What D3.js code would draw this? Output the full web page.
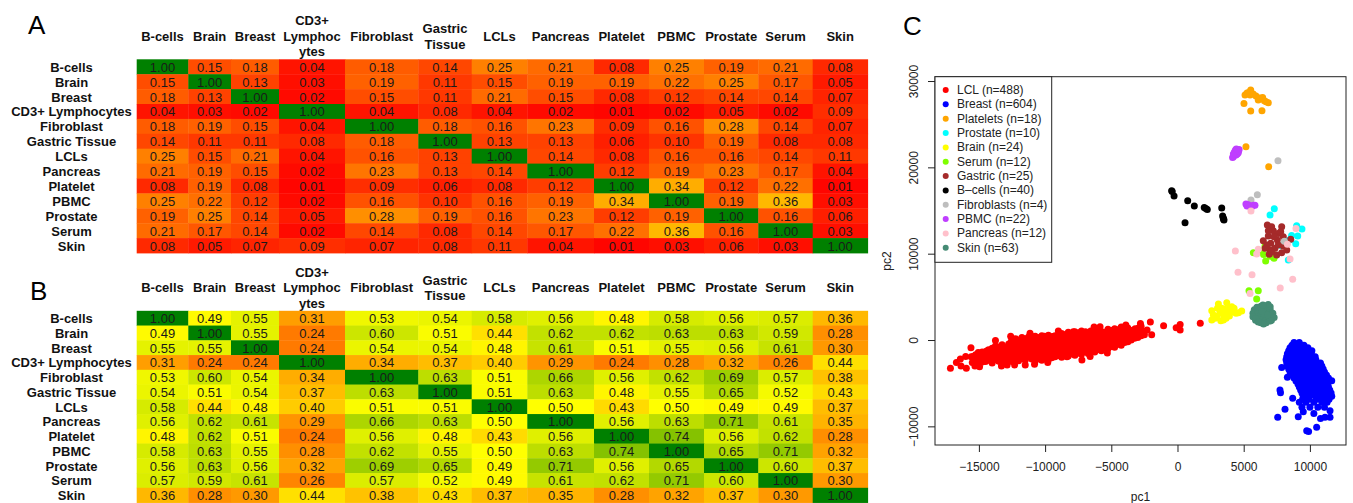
<!DOCTYPE html>
<html>
<head>
<meta charset="utf-8">
<script src="https://cdn.jsdelivr.net/npm/d3@7"></script>
<style>
  body { margin: 0; background: #fff; }
  svg { display: block; font-family: "Liberation Sans", Arial, Helvetica, sans-serif; }
</style>
</head>
<body>
<div id="chart"></div>
<script>
// ---- data ----
var rowNames = ["B-cells", "Brain", "Breast", "CD3+ Lymphocytes", "Fibroblast", "Gastric Tissue",
  "LCLs", "Pancreas", "Platelet", "PBMC", "Prostate", "Serum", "Skin"];
var colHeaders = [["B-cells"], ["Brain"], ["Breast"], ["CD3+", "Lymphoc", "ytes"], ["Fibroblast"],
  ["Gastric", "Tissue"], ["LCLs"], ["Pancreas"], ["Platelet"], ["PBMC"], ["Prostate"], ["Serum"], ["Skin"]];

var matrixA = [
  [1.00, 0.15, 0.18, 0.04, 0.18, 0.14, 0.25, 0.21, 0.08, 0.25, 0.19, 0.21, 0.08],
  [0.15, 1.00, 0.13, 0.03, 0.19, 0.11, 0.15, 0.19, 0.19, 0.22, 0.25, 0.17, 0.05],
  [0.18, 0.13, 1.00, 0.02, 0.15, 0.11, 0.21, 0.15, 0.08, 0.12, 0.14, 0.14, 0.07],
  [0.04, 0.03, 0.02, 1.00, 0.04, 0.08, 0.04, 0.02, 0.01, 0.02, 0.05, 0.02, 0.09],
  [0.18, 0.19, 0.15, 0.04, 1.00, 0.18, 0.16, 0.23, 0.09, 0.16, 0.28, 0.14, 0.07],
  [0.14, 0.11, 0.11, 0.08, 0.18, 1.00, 0.13, 0.13, 0.06, 0.10, 0.19, 0.08, 0.08],
  [0.25, 0.15, 0.21, 0.04, 0.16, 0.13, 1.00, 0.14, 0.08, 0.16, 0.16, 0.14, 0.11],
  [0.21, 0.19, 0.15, 0.02, 0.23, 0.13, 0.14, 1.00, 0.12, 0.19, 0.23, 0.17, 0.04],
  [0.08, 0.19, 0.08, 0.01, 0.09, 0.06, 0.08, 0.12, 1.00, 0.34, 0.12, 0.22, 0.01],
  [0.25, 0.22, 0.12, 0.02, 0.16, 0.10, 0.16, 0.19, 0.34, 1.00, 0.19, 0.36, 0.03],
  [0.19, 0.25, 0.14, 0.05, 0.28, 0.19, 0.16, 0.23, 0.12, 0.19, 1.00, 0.16, 0.06],
  [0.21, 0.17, 0.14, 0.02, 0.14, 0.08, 0.14, 0.17, 0.22, 0.36, 0.16, 1.00, 0.03],
  [0.08, 0.05, 0.07, 0.09, 0.07, 0.08, 0.11, 0.04, 0.01, 0.03, 0.06, 0.03, 1.00]
];

var matrixB = [
  [1.00, 0.49, 0.55, 0.31, 0.53, 0.54, 0.58, 0.56, 0.48, 0.58, 0.56, 0.57, 0.36],
  [0.49, 1.00, 0.55, 0.24, 0.60, 0.51, 0.44, 0.62, 0.62, 0.63, 0.63, 0.59, 0.28],
  [0.55, 0.55, 1.00, 0.24, 0.54, 0.54, 0.48, 0.61, 0.51, 0.55, 0.56, 0.61, 0.30],
  [0.31, 0.24, 0.24, 1.00, 0.34, 0.37, 0.40, 0.29, 0.24, 0.28, 0.32, 0.26, 0.44],
  [0.53, 0.60, 0.54, 0.34, 1.00, 0.63, 0.51, 0.66, 0.56, 0.62, 0.69, 0.57, 0.38],
  [0.54, 0.51, 0.54, 0.37, 0.63, 1.00, 0.51, 0.63, 0.48, 0.55, 0.65, 0.52, 0.43],
  [0.58, 0.44, 0.48, 0.40, 0.51, 0.51, 1.00, 0.50, 0.43, 0.50, 0.49, 0.49, 0.37],
  [0.56, 0.62, 0.61, 0.29, 0.66, 0.63, 0.50, 1.00, 0.56, 0.63, 0.71, 0.61, 0.35],
  [0.48, 0.62, 0.51, 0.24, 0.56, 0.48, 0.43, 0.56, 1.00, 0.74, 0.56, 0.62, 0.28],
  [0.58, 0.63, 0.55, 0.28, 0.62, 0.55, 0.50, 0.63, 0.74, 1.00, 0.65, 0.71, 0.32],
  [0.56, 0.63, 0.56, 0.32, 0.69, 0.65, 0.49, 0.71, 0.56, 0.65, 1.00, 0.60, 0.37],
  [0.57, 0.59, 0.61, 0.26, 0.57, 0.52, 0.49, 0.61, 0.62, 0.71, 0.60, 1.00, 0.30],
  [0.36, 0.28, 0.30, 0.44, 0.38, 0.43, 0.37, 0.35, 0.28, 0.32, 0.37, 0.30, 1.00]
];

var groupNames = ["LCL", "Breast", "Platelets", "Prostate", "Brain", "Serum", "Gastric",
  "B\u2013cells", "Fibroblasts", "PBMC", "Pancreas", "Skin"];
var groupN = [488, 604, 18, 10, 24, 12, 25, 40, 4, 22, 12, 63];

var lclPts = [
  [-17150, -3280], [-16400, -2200], [-16350, -3000], [-15950, -3280], [-15600, -900], [-15580, -1950],
  [-14950, -3100], [-14880, -1850], [-14300, -1150], [-13750, -50], [-12870, -2900], [-11500, -2900],
  [-11030, 400], [-11140, 770], [-8350, -1950], [-7220, -2320], [-7870, 960],
  [-2800, 1900], [-2050, 2100], [-1950, 600], [-2300, 1150], [-1050, 1650], [-100, 1430], [200, 1800],
  [200, 1150], [1720, 1930], [-2700, 1000], [-3200, 1300], [-2500, 600],
  [-16700, -2600], [-16000, -1900], [-15300, -3000], [-13300, -3000], [-12300, -2900], [-10800, -2800],
  [-9800, -2600], [-6600, -1900], [-5300, -1500], [-12600, 450], [-9000, 1050], [-6300, 1500], [-3900, 1750],
  [-15500, -2600], [-15450, -1900],
  [-15250, -2300], [-15250, -1700],
  [-15000, -2650], [-14950, -2050], [-15050, -1450],
  [-14750, -2550], [-14750, -1950], [-14750, -1400],
  [-14500, -2500], [-14550, -1900], [-14450, -1300],
  [-14250, -2350], [-14250, -1750], [-14250, -1150],
  [-14000, -2650], [-14050, -2050], [-13950, -1500], [-14000, -950],
  [-13750, -2300], [-13750, -1750], [-13750, -1200], [-13750, -700],
  [-13500, -2450], [-13550, -1900], [-13450, -1300], [-13500, -800],
  [-13250, -2250], [-13250, -1650], [-13250, -1050], [-13250, -550],
  [-13000, -2600], [-12950, -2000], [-13050, -1400], [-13000, -850],
  [-12750, -2250], [-12750, -1650], [-12750, -1000], [-12750, -450],
  [-12500, -2500], [-12550, -1900], [-12450, -1300], [-12500, -700], [-12550, -150],
  [-12250, -2150], [-12250, -1550], [-12250, -950], [-12250, -350], [-12250, 150],
  [-12000, -2400], [-12050, -1800], [-11950, -1200], [-12000, -600], [-11950, 0],
  [-11750, -2050], [-11750, -1450], [-11750, -850], [-11750, -250], [-11750, 300],
  [-11500, -2350], [-11550, -1700], [-11450, -1100], [-11500, -500], [-11450, 150],
  [-11250, -1950], [-11250, -1350], [-11250, -750], [-11250, -150], [-11250, 350],
  [-11000, -2200], [-11050, -1600], [-10950, -1000], [-11000, -400], [-11050, 250],
  [-10750, -2450], [-10750, -1850], [-10750, -1250], [-10750, -650], [-10750, -50], [-10750, 450],
  [-10500, -2150], [-10550, -1500], [-10450, -900], [-10500, -300], [-10450, 300],
  [-10250, -2350], [-10250, -1750], [-10250, -1150], [-10250, -550], [-10250, 50], [-10250, 500],
  [-10000, -2000], [-10050, -1400], [-9950, -800], [-10000, -200], [-10050, 450],
  [-9750, -2250], [-9750, -1700], [-9750, -1100], [-9750, -500], [-9750, 100], [-9750, 550],
  [-9500, -2050], [-9550, -1400], [-9450, -800], [-9500, -200], [-9450, 400],
  [-9250, -1950], [-9250, -1300], [-9250, -700], [-9250, -100], [-9250, 500],
  [-9000, -1800], [-9050, -1200], [-8950, -600], [-9000, 0], [-8950, 550],
  [-8750, -2000], [-8750, -1450], [-8750, -850], [-8750, -250], [-8750, 300], [-8750, 750],
  [-8500, -1700], [-8550, -1100], [-8450, -500], [-8500, 100], [-8450, 650],
  [-8250, -1850], [-8250, -1300], [-8250, -700], [-8250, -100], [-8250, 450], [-8250, 900],
  [-8000, -1600], [-8050, -1000], [-7950, -400], [-8000, 200], [-7950, 750],
  [-7750, -1750], [-7750, -1200], [-7750, -600], [-7750, 0], [-7750, 550], [-7750, 950],
  [-7500, -1500], [-7550, -900], [-7450, -300], [-7500, 300], [-7450, 850],
  [-7250, -1650], [-7250, -1100], [-7250, -500], [-7250, 100], [-7250, 650], [-7250, 1050],
  [-7000, -1300], [-7050, -700], [-6950, -100], [-7000, 500], [-6950, 950],
  [-6750, -1550], [-6750, -1000], [-6750, -400], [-6750, 200], [-6750, 750],
  [-6500, -1200], [-6550, -600], [-6450, 0], [-6500, 600], [-6550, 1050],
  [-6250, -1400], [-6250, -850], [-6250, -300], [-6250, 300], [-6250, 850], [-6250, 1200],
  [-6000, -1100], [-6050, -500], [-5950, 100], [-6000, 700], [-5950, 1200],
  [-5750, -1250], [-5750, -700], [-5750, -100], [-5750, 500], [-5750, 1000],
  [-5500, -900], [-5550, -300], [-5450, 300], [-5500, 900], [-5850, 1540],
  [-5250, -1000], [-5250, -400], [-5250, 200], [-5250, 750], [-5250, 1250],
  [-5000, -750], [-5050, -100], [-4950, 500], [-5000, 1100],
  [-4750, -850], [-4750, -300], [-4750, 300], [-4750, 850], [-4750, 1300],
  [-4500, -500], [-4550, 100], [-4450, 700], [-4500, 1200],
  [-4250, -600], [-4250, 0], [-4250, 500], [-4250, 1000], [-4250, 1500],
  [-4000, -300], [-4050, 300], [-3950, 900], [-4000, 1350],
  [-3750, -200], [-3750, 400], [-3750, 900], [-3750, 1400],
  [-3500, 0], [-3550, 600], [-3450, 1100],
  [-3250, 200], [-3250, 700], [-3250, 1200],
  [-3000, 300], [-3050, 900], [-2950, 1400],
  [-2750, 500], [-2750, 1100], [-2750, 1600]
];

var breastPts = [
  [8800, -300], [9200, -300],
  [8650, -600], [9100, -600], [9550, -600],
  [8500, -900], [8950, -900], [9400, -900], [9850, -900],
  [8400, -1250], [8850, -1250], [9300, -1250], [9750, -1250], [10150, -1250],
  [8300, -1600], [8750, -1600], [9200, -1600], [9650, -1600], [10100, -1600],
  [8250, -1950], [8700, -1950], [9150, -1950], [9600, -1950], [10050, -1950], [10400, -1950],
  [8200, -2300], [8650, -2300], [9100, -2300], [9550, -2300], [10000, -2300], [10450, -2300],
  [8250, -2650], [8700, -2650], [9150, -2650], [9600, -2650], [10050, -2650], [10500, -2650], [10800, -2650],
  [8300, -3000], [8750, -3000], [9200, -3000], [9650, -3000], [10100, -3000], [10550, -3000], [10900, -3000],
  [8400, -3350], [8850, -3350], [9300, -3350], [9750, -3350], [10200, -3350], [10650, -3350], [11000, -3350],
  [8500, -3700], [8950, -3700], [9400, -3700], [9850, -3700], [10300, -3700], [10750, -3700], [11100, -3700],
  [8650, -4050], [9100, -4050], [9550, -4050], [10000, -4050], [10450, -4050], [10900, -4050], [11250, -4050],
  [8300, -4300], [8800, -4400], [9250, -4400], [9700, -4400], [10150, -4400], [10600, -4400], [11050, -4400], [11400, -4400],
  [8950, -4750], [9400, -4750], [9850, -4750], [10300, -4750], [10750, -4750], [11200, -4750], [11500, -4750],
  [9100, -5100], [9550, -5100], [10000, -5100], [10450, -5100], [10900, -5100], [11350, -5100],
  [9200, -5450], [9650, -5450], [10100, -5450], [10550, -5450], [11000, -5450], [11400, -5450],
  [9300, -5800], [9750, -5800], [10200, -5800], [10650, -5800], [11100, -5800], [11500, -5800],
  [9400, -6150], [9850, -6150], [10300, -6150], [10750, -6150], [11200, -6150], [11600, -6150],
  [9500, -6500], [9950, -6500], [10400, -6500], [10850, -6500], [11300, -6500], [11650, -6500],
  [9450, -6850], [9900, -6850], [10500, -6850], [11000, -6850], [11450, -6850],
  [9200, -7200], [9700, -7200], [10300, -7200], [10900, -7200], [11300, -7200],
  [9400, -7800], [10000, -7800], [10600, -7800], [11100, -7800],
  [7870, -3170], [7740, -5790], [7780, -6100], [7570, -8950], [8120, -8030], [8700, -6750],
  [9120, -8880], [9760, -10500], [9900, -10600], [10510, -10110], [11140, -8950], [11520, -8950],
  [11650, -4710], [11520, -8180], [10300, -8500], [9500, -8300], [10800, -9100]
];

var plateletPts = [
  [5100, 28370], [5350, 28640], [5530, 28950], [5480, 28370], [5930, 28260], [6100, 27790],
  [6430, 28100], [6690, 27600], [6860, 27480], [5020, 27410], [5530, 26520], [6380, 26550],
  [5170, 22390], [6890, 20070], [5250, 28600], [5720, 28490], [6230, 28020], [6560, 27710]
];

var prostatePts = [
  [7310, 15210], [6990, 14480], [9000, 13240], [9400, 12850], [9080, 12040],
  [8930, 11150], [8620, 12120], [8370, 9260], [7870, 10920], [8450, 11580]
];

var brainPts = [
  [2590, 3400], [3090, 4170], [3720, 4320], [4100, 3860], [4850, 3360], [2590, 2320],
  [3270, 2240], [2970, 2780], [3470, 2900], [3920, 2780], [4420, 3090], [3590, 3550],
  [3220, 3280], [2840, 2510], [3840, 3280], [4170, 3280], [4600, 3170], [3340, 3670],
  [3020, 3670], [3670, 2510], [4270, 3670], [2710, 2900], [3470, 2320], [3970, 3780]
];

var serumPts = [
  [5730, 10110], [6660, 9150], [7290, 9460], [6610, 10890], [5400, 5710], [6100, 5710],
  [5980, 4750], [6700, 10700], [7000, 9700], [6500, 9900], [7200, 10000], [6300, 10300]
];

var gastricPts = [
  [6785, 13320], [7235, 12660], [7870, 13120], [7610, 12350], [6860, 12040], [6480, 11500],
  [7040, 11200], [7540, 11580], [7990, 10890], [8550, 11660], [8250, 10420], [6990, 10420],
  [6740, 11000], [7360, 10620], [7490, 9840], [6930, 9920], [7870, 10110], [6610, 10620],
  [7290, 11960], [7795, 12540], [7110, 13120], [7990, 11960], [6860, 12660], [7610, 11000], [7110, 10230]
];

var bcellPts = [
  [-440, 17290], [-260, 16670], [770, 16130], [1270, 15520], [2020, 15360], [2250, 15130],
  [570, 13580], [3340, 15290], [3410, 14360], [3510, 13900], [2140, 15240], [3460, 14130],
  [-400, 17200], [3480, 14000]
];

var fibroPts = [[7590, 20770], [5550, 16210], [6030, 16830], [8070, 11430]];

var pbmcPts = [
  [4220, 21230], [4330, 21620], [4510, 21930], [4650, 22080], [4420, 21420], [4590, 21700],
  [4270, 21390], [4470, 21810], [4160, 21150], [4380, 22000], [4510, 21540], [4300, 21770],
  [4620, 21930], [4220, 21540], [4440, 22120],
  [5170, 15750], [5430, 15520], [5730, 15600], [5350, 15670], [5600, 15440], [5850, 15600], [5250, 15520]
];

var pancreasPts = [
  [5550, 14940], [8950, 12930], [4370, 10310], [5980, 9960], [8500, 9380], [4570, 7840],
  [5630, 7560], [8700, 7030], [7760, 6020], [5480, 5400], [8300, 11100], [6100, 10500]
];

var skinPts = [
  [6300, 3900], [6700, 3950], [7000, 3850],
  [5800, 3500], [6200, 3500], [6600, 3500], [7000, 3500],
  [5700, 3100], [6100, 3100], [6500, 3100], [6900, 3100], [7200, 3100],
  [5700, 2700], [6100, 2700], [6500, 2700], [6900, 2700], [7200, 2700],
  [5900, 2300], [6300, 2300], [6700, 2300], [7100, 2300],
  [6300, 2000], [6700, 2000],
  [6000, 3800], [6850, 4100], [6450, 4050], [5900, 2500], [7300, 2600], [6500, 1850],
  [6100, 2100], [7000, 2200], [6400, 3300], [6800, 2900]
];

var groupPts = [lclPts, breastPts, plateletPts, prostatePts, brainPts, serumPts, gastricPts,
  bcellPts, fibroPts, pbmcPts, pancreasPts, skinPts];

var xTicks = [-15000, -10000, -5000, 0, 5000, 10000];
var yTicks = [-10000, 0, 10000, 20000, 30000];

// ---- styles / layout ----
var groupColors = ["#ff0000", "#0000ff", "#ffa500", "#00ffff", "#ffff00", "#7fff00", "#a52a2a",
  "#000000", "#bebebe", "#bf3eff", "#ffc0cb", "#458b74"];
var colWidths = [51.6, 42.7, 48, 66, 73.3, 53.4, 55.6, 66.7, 55, 55, 54.3, 54.4, 55];
var gridLeft = 136.7;

var svg = d3.select("#chart").append("svg")
  .attr("width", 1353).attr("height", 503);
svg.append("rect").attr("width", 1353).attr("height", 503).attr("fill", "#fff");

var color = d3.scaleLinear().domain([0, 0.5, 1]).range(["#ff0000", "#ffff00", "#008000"]);
var fmt = d3.format(".2f");

var starts = d3.cumsum([0].concat(colWidths)).slice(0, colWidths.length);
var xCol = d3.scaleOrdinal().domain(d3.range(colHeaders.length)).range(starts.map(function(s) { return gridLeft + s; }));

function drawHeat(matrix, top, rowH, letter, letterX, letterY) {
  var g = svg.append("g");
  var yRow = d3.scaleBand().domain(rowNames).range([top, top + rowNames.length * rowH]);

  g.append("text").attr("x", letterX).attr("y", letterY)
    .attr("font-size", 26).attr("fill", "#000").text(letter);

  // column headers
  colHeaders.forEach(function(lines, j) {
    var cx = xCol(j) + colWidths[j] / 2;
    lines.forEach(function(line, k) {
      g.append("text")
        .attr("x", cx)
        .attr("y", top - 23 + (k - (lines.length - 1) / 2) * 15.5)
        .attr("text-anchor", "middle").attr("dominant-baseline", "central")
        .attr("font-size", 13).attr("font-weight", "bold").attr("fill", "#111")
        .text(line);
    });
  });

  // row labels
  g.selectAll(".rl").data(rowNames).enter().append("text")
    .attr("x", 71.5).attr("y", function(d) { return yRow(d) + rowH / 2 + 0.5; })
    .attr("text-anchor", "middle").attr("dominant-baseline", "central")
    .attr("font-size", 13).attr("font-weight", "bold").attr("fill", "#111")
    .text(function(d) { return d; });

  var cells = [];
  matrix.forEach(function(row, i) {
    row.forEach(function(v, j) { cells.push({ r: rowNames[i], c: j, v: v }); });
  });

  g.selectAll(".cell").data(cells).enter().append("rect")
    .attr("x", function(d) { return xCol(d.c); })
    .attr("y", function(d) { return yRow(d.r); })
    .attr("width", function(d) { return colWidths[d.c] + 0.4; })
    .attr("height", rowH + 0.4)
    .attr("fill", function(d) { return color(d.v); });

  g.selectAll(".val").data(cells).enter().append("text")
    .attr("x", function(d) { return xCol(d.c) + colWidths[d.c] / 2; })
    .attr("y", function(d) { return yRow(d.r) + rowH / 2 + 0.5; })
    .attr("text-anchor", "middle").attr("dominant-baseline", "central")
    .attr("font-size", 13).attr("fill", "#1a1a1a")
    .text(function(d) { return fmt(d.v); });
}

drawHeat(matrixA, 59.3, 14.9, "A", 28, 34);
drawHeat(matrixB, 310.8, 14.75, "B", 30, 300);

// ---- scatter C ----
var x = d3.scaleLinear().domain([-18316, 12727]).range([935, 1346]);
var y = d3.scaleLinear().domain([-12160, 30500]).range([445, 76.7]);
var minus = function(d) { return d < 0 ? "\u2212" + Math.abs(d) : String(d); };

svg.append("text").attr("x", 903).attr("y", 34.5).attr("font-size", 26).attr("fill", "#000").text("C");

var pg = svg.append("g");
groupPts.forEach(function(pts, gi) {
  pg.selectAll(null).data(pts).enter().append("circle")
    .attr("cx", function(d) { return x(d[0]); })
    .attr("cy", function(d) { return y(d[1]); })
    .attr("r", 3.5)
    .attr("fill", groupColors[gi]);
});

// axes
var xAxis = svg.append("g").attr("transform", "translate(0,445)")
  .call(d3.axisBottom(x).tickValues(xTicks).tickSize(7).tickPadding(10).tickFormat(minus));
var yAxis = svg.append("g").attr("transform", "translate(935,0)")
  .call(d3.axisLeft(y).tickValues(yTicks).tickSize(7).tickFormat(minus));
[xAxis, yAxis].forEach(function(a) {
  a.select(".domain").remove();
  a.selectAll("text").attr("font-size", 12).attr("fill", "#222")
    .attr("font-family", "\"Liberation Sans\", Arial, Helvetica, sans-serif");
  a.selectAll("line").attr("stroke", "#222");
});
yAxis.selectAll("text")
  .attr("transform", "rotate(-90)")
  .attr("x", 0).attr("y", -21).attr("dy", null)
  .attr("text-anchor", "middle").attr("dominant-baseline", "central");

// box
svg.append("rect").attr("x", 935).attr("y", 76.7).attr("width", 411).attr("height", 368.3)
  .attr("fill", "none").attr("stroke", "#222").attr("stroke-width", 1);

svg.append("text").attr("x", 1140.5).attr("y", 501).attr("text-anchor", "middle")
  .attr("font-size", 12).attr("fill", "#222").text("pc1");
svg.append("text").attr("transform", "translate(891,261) rotate(-90)")
  .attr("text-anchor", "middle").attr("font-size", 12).attr("fill", "#222").text("pc2");

// legend
var lg = svg.append("g");
lg.append("rect").attr("x", 935).attr("y", 76.7).attr("width", 116.7).attr("height", 185.6)
  .attr("fill", "#fff").attr("stroke", "#222").attr("stroke-width", 1);
var ly = d3.scalePoint().domain(groupNames).range([90, 247.8]);
lg.selectAll("circle").data(groupNames).enter().append("circle")
  .attr("cx", 945.7).attr("cy", function(d) { return ly(d); }).attr("r", 3)
  .attr("fill", function(d, i) { return groupColors[i]; });
lg.selectAll("text").data(groupNames).enter().append("text")
  .attr("x", 957).attr("y", function(d) { return ly(d); })
  .attr("dominant-baseline", "central").attr("font-size", 12).attr("fill", "#222")
  .text(function(d, i) { return d + " (n=" + groupN[i] + ")"; });
</script>
</body>
</html>
